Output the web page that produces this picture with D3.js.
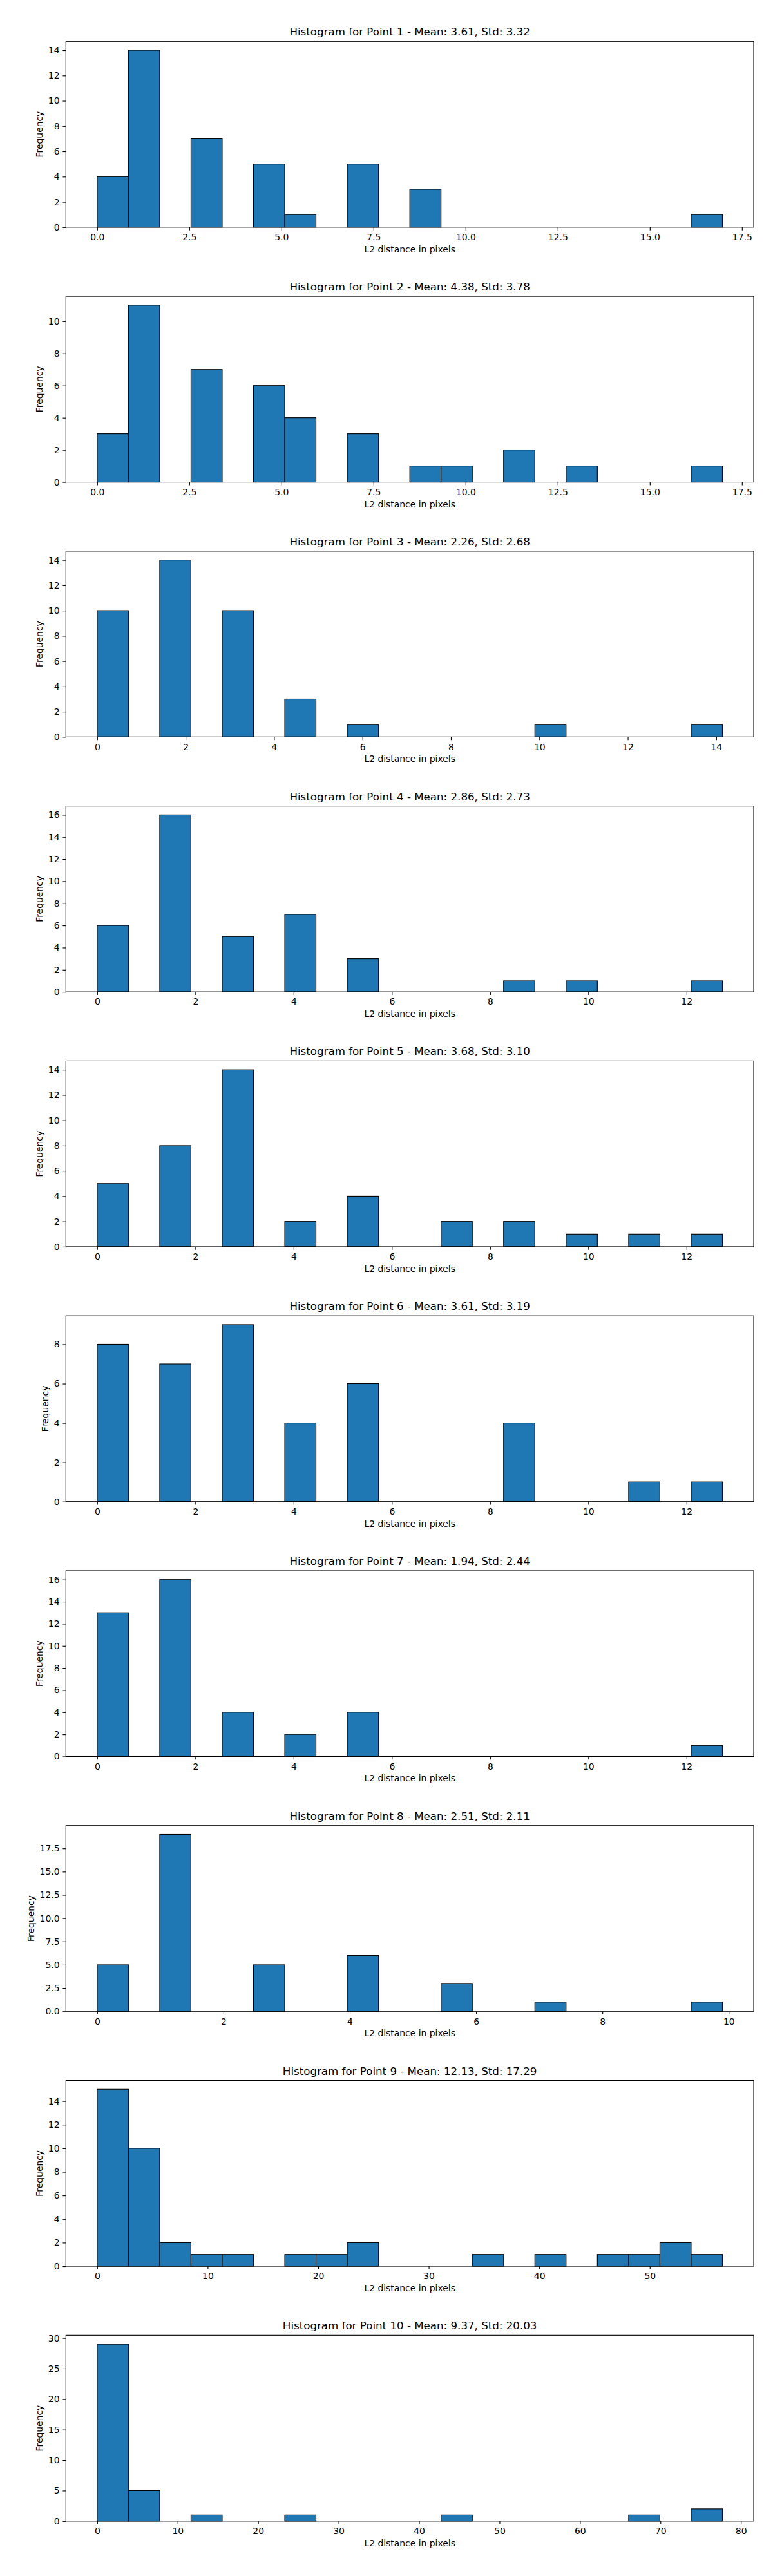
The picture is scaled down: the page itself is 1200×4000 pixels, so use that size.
<!DOCTYPE html>
<html>
<head>
<meta charset="utf-8">
<script src="https://cdn.jsdelivr.net/npm/d3@7"></script>
<style>
  body { margin: 0; background: #fff; }
  text { font-family: "DejaVu Sans", sans-serif; fill: #000; }
</style>
</head>
<body>
<div id="chart"></div>
<script>
// 每个点的统计信息
const pointIds = [1, 2, 3, 4, 5, 6, 7, 8, 9, 10];
const means = [3.61, 4.38, 2.26, 2.86, 3.68, 3.61, 1.94, 2.51, 12.13, 9.37];
const stds = [3.32, 3.78, 2.68, 2.73, 3.10, 3.19, 2.44, 2.11, 17.29, 20.03];

// 直方图范围 (20 bins, 从 0 到最大距离)
const binMin = [0, 0, 0, 0, 0, 0, 0, 0, 0, 0];
const binMax = [16.97, 16.97, 14.14, 12.73, 12.73, 12.73, 12.73, 9.90, 56.57, 77.7];

// 每个 bin 的频数
const counts = [
	[4, 14, 0, 7, 0, 5, 1, 0, 5, 0, 3, 0, 0, 0, 0, 0, 0, 0, 0, 1],
	[3, 11, 0, 7, 0, 6, 4, 0, 3, 0, 1, 1, 0, 2, 0, 1, 0, 0, 0, 1],
	[10, 0, 14, 0, 10, 0, 3, 0, 1, 0, 0, 0, 0, 0, 1, 0, 0, 0, 0, 1],
	[6, 0, 16, 0, 5, 0, 7, 0, 3, 0, 0, 0, 0, 1, 0, 1, 0, 0, 0, 1],
	[5, 0, 8, 0, 14, 0, 2, 0, 4, 0, 0, 2, 0, 2, 0, 1, 0, 1, 0, 1],
	[8, 0, 7, 0, 9, 0, 4, 0, 6, 0, 0, 0, 0, 4, 0, 0, 0, 1, 0, 1],
	[13, 0, 16, 0, 4, 0, 2, 0, 4, 0, 0, 0, 0, 0, 0, 0, 0, 0, 0, 1],
	[5, 0, 19, 0, 0, 5, 0, 0, 6, 0, 0, 3, 0, 0, 1, 0, 0, 0, 0, 1],
	[15, 10, 2, 1, 1, 0, 1, 1, 2, 0, 0, 0, 1, 0, 1, 0, 1, 1, 2, 1],
	[29, 5, 0, 1, 0, 0, 1, 0, 0, 0, 0, 1, 0, 0, 0, 0, 0, 1, 0, 2]
];

// 刻度
const xTicks = [
	[0, 2.5, 5, 7.5, 10, 12.5, 15, 17.5],
	[0, 2.5, 5, 7.5, 10, 12.5, 15, 17.5],
	[0, 2, 4, 6, 8, 10, 12, 14],
	[0, 2, 4, 6, 8, 10, 12],
	[0, 2, 4, 6, 8, 10, 12],
	[0, 2, 4, 6, 8, 10, 12],
	[0, 2, 4, 6, 8, 10, 12],
	[0, 2, 4, 6, 8, 10],
	[0, 10, 20, 30, 40, 50],
	[0, 10, 20, 30, 40, 50, 60, 70, 80]
];
const yTicks = [
	[0, 2, 4, 6, 8, 10, 12, 14],
	[0, 2, 4, 6, 8, 10],
	[0, 2, 4, 6, 8, 10, 12, 14],
	[0, 2, 4, 6, 8, 10, 12, 14, 16],
	[0, 2, 4, 6, 8, 10, 12, 14],
	[0, 2, 4, 6, 8],
	[0, 2, 4, 6, 8, 10, 12, 14, 16],
	[0, 2.5, 5, 7.5, 10, 12.5, 15, 17.5],
	[0, 2, 4, 6, 8, 10, 12, 14],
	[0, 5, 10, 15, 20, 25, 30]
];
const xFmt = ['.1f', '.1f', 'd', 'd', 'd', 'd', 'd', 'd', 'd', 'd'];
const yFmt = ['d', 'd', 'd', 'd', 'd', 'd', 'd', '.1f', 'd', 'd'];

const W = 1200;
const H = 4000;
const left = 102.3;
const right = 1170;
const top0 = 64.3;
const step = 395.78;
const axH = 288.5;
const tickLen = 4.86;

const svg = d3.select('#chart')
	.append('svg')
	.attr('width', W)
	.attr('height', H);

svg.append('rect')
	.attr('width', W)
	.attr('height', H)
	.attr('fill', '#fff');

pointIds.forEach((id, i) => {
	const top = top0 + i * step;
	const g = svg.append('g').attr('transform', `translate(0,${top})`);

	const lo = binMin[i];
	const hi = binMax[i];
	const span = hi - lo;
	const nb = counts[i].length;
	const bw = span / nb;
	const ymax = d3.max(counts[i]);

	const x = d3.scaleLinear()
		.domain([lo - 0.05 * span, hi + 0.05 * span])
		.range([left, right]);
	const y = d3.scaleLinear()
		.domain([0, ymax * 1.05])
		.range([axH, 0]);

	const bins = counts[i].map((c, k) => ({ x0: lo + k * bw, x1: lo + (k + 1) * bw, c: c }));

	// 柱子
	g.append('g')
		.selectAll('rect')
		.data(bins)
		.join('rect')
		.attr('x', d => x(d.x0))
		.attr('y', d => y(d.c))
		.attr('width', d => x(d.x1) - x(d.x0))
		.attr('height', d => y(0) - y(d.c))
		.attr('fill', '#1f77b4')
		.attr('stroke', '#000')
		.attr('stroke-width', 1.1);

	// 坐标轴
	const xAxis = g.append('g')
		.attr('transform', `translate(0,${axH})`)
		.call(d3.axisBottom(x).tickValues(xTicks[i]).tickFormat(d3.format(xFmt[i]))
			.tickSize(tickLen).tickPadding(5.6));
	const yAxis = g.append('g')
		.attr('transform', `translate(${left},0)`)
		.call(d3.axisLeft(y).tickValues(yTicks[i]).tickFormat(d3.format(yFmt[i]))
			.tickSize(tickLen).tickPadding(4.9));

	[xAxis, yAxis].forEach(a => {
		a.select('.domain').remove();
		a.selectAll('line').attr('stroke', '#000').attr('stroke-width', 1.11);
		a.selectAll('text')
			.attr('font-size', 13.9)
			.attr('font-family', '"DejaVu Sans", sans-serif')
			.attr('fill', '#000');
	});

	// 边框
	g.append('rect')
		.attr('x', left)
		.attr('y', 0)
		.attr('width', right - left)
		.attr('height', axH)
		.attr('fill', 'none')
		.attr('stroke', '#000')
		.attr('stroke-width', 1.11);

	// 标题
	g.append('text')
		.attr('x', (left + right) / 2)
		.attr('y', -9)
		.attr('text-anchor', 'middle')
		.attr('font-size', 16.67)
		.text(`Histogram for Point ${id} - Mean: ${means[i].toFixed(2)}, Std: ${stds[i].toFixed(2)}`);

	// x 轴标签
	g.append('text')
		.attr('x', (left + right) / 2)
		.attr('y', axH + 39)
		.attr('text-anchor', 'middle')
		.attr('font-size', 13.9)
		.text('L2 distance in pixels');

	// y 轴标签, 放在刻度文字左侧
	let minX = Infinity;
	yAxis.selectAll('text').each(function () {
		const b = this.getBBox();
		minX = Math.min(minX, left + b.x);
	});
	const lx = minX - 5.56 - 3.3;
	g.append('text')
		.attr('transform', `translate(${lx},${axH / 2}) rotate(-90)`)
		.attr('text-anchor', 'middle')
		.attr('font-size', 13.9)
		.text('Frequency');
});
</script>
</body>
</html>
